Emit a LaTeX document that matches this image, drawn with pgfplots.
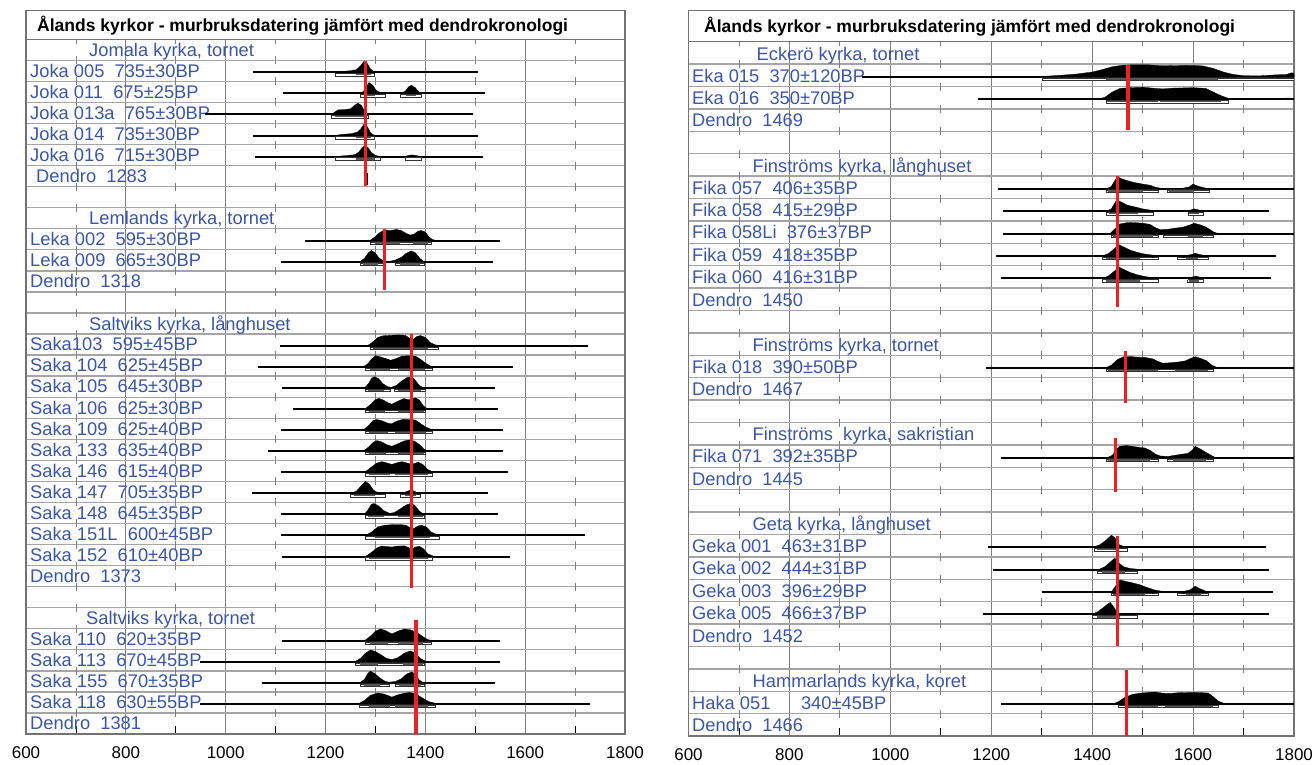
\documentclass[border=0pt]{standalone}
\usepackage{fontspec}
\setmainfont{Liberation Sans}
\usepackage{pgfplots}
\pgfplotsset{compat=1.18}
\definecolor{lblue}{RGB}{58,86,168}
\definecolor{dred}{RGB}{238,32,36}
\definecolor{hgrid}{RGB}{165,165,165}
\definecolor{vgrid}{RGB}{128,128,128}
\definecolor{rgray}{RGB}{85,85,85}
\definecolor{frm}{RGB}{115,115,115}
\tikzset{tickc/.style={vgrid,line width=0.8pt},
  labsty/.style={lblue,inner sep=0pt,font=\fontsize{18.3}{20}\selectfont}}
\pgfplotsset{panel/.style={
  scale only axis, anchor=north west,
  xmin=600,xmax=1800, y dir=reverse, ymin=0,
  xtick={600,800,...,1800}, xticklabels={600,800,1000,1200,1400,1600,1800},
  minor xtick={700,900,...,1700},
  xmajorgrids, ymajorgrids, yticklabels={},
  x grid style={vgrid,line width=0.8pt},
  y grid style={hgrid,line width=1.3pt},
  major tick length=0pt, minor tick length=8pt, tick align=inside,
  xtick pos=left, ytick pos=left,
  minor x tick style={black,line width=0.8pt},
  axis line style={frm,line width=1.3pt},
  xticklabel style={font=\fontsize{17}{17}\selectfont,yshift=-9pt},
}}
% baseline line
\newcommand{\bl}[3]{\addplot[black,line width=2pt] coordinates {(#2,#1) (#3,#1)};}
% distribution: rows "year height\\"
\newcommand{\dist}[2]{\addplot[fill=black,draw=black,line width=0.3pt] table[row sep=\\,x index=0,y expr={#1-1.08*\thisrowno{1}}]{#2};}
% 95% range box
\newcommand{\wbox}[3]{\addplot[draw=black!80,fill=white,line width=0.4pt] table[row sep=\\,x index=0,y expr={#1+\thisrowno{1}}]{#2 0.05\\#3 0.05\\#3 0.16\\#2 0.16\\#2 0.05\\};}
% 68% range bar
\newcommand{\gbox}[3]{\addplot[draw=none,fill=rgray] table[row sep=\\,x index=0,y expr={#1+\thisrowno{1}}]{#2 0.07\\#3 0.07\\#3 0.14\\#2 0.14\\};}
\newcommand{\lab}[3]{\node[labsty,anchor=base west,xshift=#1] at (axis cs:600,#2) {#3};}
\newcommand{\dendro}[3]{\addplot[dred,line width=3.6pt] coordinates {(#1,#2) (#1,#3)};}

\begin{document}
\begin{tikzpicture}
\useasboundingbox (0,0) rectangle (1312pt,-765pt);
%================ LEFT PANEL =================
\begin{axis}[panel, at={(26pt,-39.3pt)}, width=599pt, height=694.7pt, ymax=33, ytick={1,...,32}]
\foreach \xx in {700,900,...,1700}{\edef\temp{\noexpand\draw[tickc] (axis cs:\xx,0) -- ++(0pt,-4.5pt);}\temp
  \foreach \k in {1,...,32}{\edef\temp{\noexpand\draw[tickc] (axis cs:\xx,\k) ++(0pt,4pt) -- ++(0pt,-8pt);}\temp}}
\lab{63pt}{0.82}{Jomala kyrka, tornet}
\lab{4pt}{1.8}{Joka 005~ 735±30BP}
\lab{4pt}{2.8}{Joka 011~ 675±25BP}
\lab{4pt}{3.8}{Joka 013a~ 765±30BP}
\lab{4pt}{4.8}{Joka 014~ 735±30BP}
\lab{4pt}{5.8}{Joka 016~ 715±30BP}
\lab{10pt}{6.8}{Dendro~ 1283}
\lab{63pt}{8.82}{Lemlands kyrka, tornet}
\lab{4pt}{9.8}{Leka 002~ 595±30BP}
\lab{4pt}{10.8}{Leka 009~ 665±30BP}
\lab{4pt}{11.8}{Dendro~ 1318}
\lab{63pt}{13.82}{Saltviks kyrka, långhuset}
\lab{4pt}{14.8}{Saka103~ 595±45BP}
\lab{4pt}{15.8}{Saka 104~ 625±45BP}
\lab{4pt}{16.8}{Saka 105~ 645±30BP}
\lab{4pt}{17.8}{Saka 106~ 625±30BP}
\lab{4pt}{18.8}{Saka 109~ 625±40BP}
\lab{4pt}{19.8}{Saka 133~ 635±40BP}
\lab{4pt}{20.8}{Saka 146~ 615±40BP}
\lab{4pt}{21.8}{Saka 147~ 705±35BP}
\lab{4pt}{22.8}{Saka 148~ 645±35BP}
\lab{4pt}{23.8}{Saka 151L~ 600±45BP}
\lab{4pt}{24.8}{Saka 152~ 610±40BP}
\lab{4pt}{25.8}{Dendro~ 1373}
\lab{60pt}{27.82}{Saltviks kyrka, tornet}
\lab{4pt}{28.8}{Saka 110~ 620±35BP}
\lab{4pt}{29.8}{Saka 113~ 670±45BP}
\lab{4pt}{30.8}{Saka 155~ 670±35BP}
\lab{4pt}{31.8}{Saka 118~ 630±55BP}
\lab{4pt}{32.8}{Dendro~ 1381}
% Joka 005
\bl{1.57}{1055}{1505}
\dist{1.57}{1219 0\\1230 0.04\\1250 0.07\\1262 0.12\\1270 0.28\\1277 0.48\\1284 0.38\\1290 0.15\\1297 0.03\\1305 0\\}
\dist{1.57}{1362 0\\1372 0.02\\1382 0\\}
\wbox{1.57}{1219}{1297}\gbox{1.57}{1262}{1292}
% Joka 011
\bl{2.57}{1115}{1520}
\dist{2.57}{1272 0\\1280 0.2\\1287 0.48\\1295 0.35\\1302 0.12\\1310 0.04\\1320 0\\}
\dist{2.57}{1350 0\\1360 0.1\\1366 0.28\\1372 0.36\\1380 0.25\\1386 0.08\\1392 0\\}
\wbox{2.57}{1270}{1320}\wbox{2.57}{1349}{1392}\gbox{2.57}{1280}{1300}\gbox{2.57}{1362}{1382}
% Joka 013a
\bl{3.57}{958}{1495}
\dist{3.57}{1212 0\\1218 0.1\\1225 0.2\\1240 0.22\\1250 0.25\\1258 0.4\\1265 0.5\\1272 0.4\\1278 0.15\\1285 0\\}
\wbox{3.57}{1212}{1285}\gbox{3.57}{1220}{1278}
% Joka 014
\bl{4.57}{1055}{1505}
\dist{4.57}{1219 0\\1232 0.05\\1252 0.08\\1264 0.15\\1271 0.3\\1277 0.5\\1284 0.38\\1290 0.12\\1297 0.02\\1305 0\\}
\dist{4.57}{1362 0\\1372 0.015\\1382 0\\}
\wbox{4.57}{1219}{1297}\gbox{4.57}{1262}{1292}
% Joka 016
\bl{5.57}{1059}{1515}
\dist{5.57}{1219 0\\1240 0.04\\1258 0.08\\1266 0.18\\1272 0.35\\1278 0.48\\1285 0.4\\1292 0.18\\1300 0.05\\1310 0\\}
\dist{5.57}{1358 0\\1368 0.06\\1375 0.07\\1385 0.03\\1392 0\\}
\wbox{5.57}{1219}{1310}\wbox{5.57}{1359}{1391}\gbox{5.57}{1262}{1300}
\addplot[black,line width=1.5pt] coordinates {(1283,6.35) (1283,6.9)};
\dendro{1280}{1.03}{6.97}
% Leka 002
\bl{9.57}{1159}{1550}
\dist{9.57}{1288 0\\1298 0.15\\1308 0.35\\1318 0.48\\1330 0.45\\1342 0.5\\1352 0.45\\1362 0.32\\1370 0.25\\1378 0.3\\1385 0.42\\1392 0.45\\1400 0.38\\1408 0.15\\1415 0.05\\1425 0\\}
\wbox{9.57}{1290}{1412}\gbox{9.57}{1300}{1350}\gbox{9.57}{1375}{1405}
% Leka 009
\bl{10.57}{1110}{1535}
\dist{10.57}{1268 0\\1278 0.15\\1286 0.4\\1292 0.5\\1300 0.38\\1308 0.15\\1317 0.04\\1328 0.02\\1340 0.08\\1352 0.2\\1362 0.38\\1372 0.48\\1380 0.4\\1388 0.18\\1397 0\\}
\wbox{10.57}{1270}{1317}\wbox{10.57}{1339}{1397}\gbox{10.57}{1276}{1305}\gbox{10.57}{1350}{1390}
\dendro{1318}{9.0}{11.9}
% Saka103
\bl{14.57}{1109}{1725}
\dist{14.57}{1283 0\\1293 0.15\\1305 0.38\\1315 0.45\\1330 0.47\\1345 0.49\\1360 0.47\\1370 0.32\\1376 0.3\\1383 0.42\\1390 0.46\\1400 0.38\\1410 0.15\\1420 0.05\\1433 0\\}
\wbox{14.57}{1290}{1425}\gbox{14.57}{1295}{1405}
% Saka 104
\bl{15.57}{1065}{1575}
\dist{15.57}{1275 0\\1285 0.15\\1292 0.35\\1300 0.5\\1310 0.45\\1320 0.38\\1331 0.3\\1342 0.38\\1353 0.48\\1365 0.5\\1380 0.48\\1390 0.35\\1400 0.18\\1410 0.05\\1420 0\\}
\wbox{15.57}{1280}{1413}\gbox{15.57}{1290}{1330}\gbox{15.57}{1346}{1400}
% Saka 105
\bl{16.57}{1113}{1540}
\dist{16.57}{1278 0\\1286 0.2\\1293 0.45\\1298 0.5\\1306 0.42\\1315 0.2\\1325 0.06\\1332 0.04\\1342 0.12\\1352 0.3\\1362 0.45\\1370 0.5\\1378 0.4\\1388 0.12\\1397 0\\}
\wbox{16.57}{1279}{1330}\wbox{16.57}{1338}{1400}\gbox{16.57}{1285}{1318}\gbox{16.57}{1345}{1392}
% Saka 106
\bl{17.57}{1135}{1545}
\dist{17.57}{1278 0\\1290 0.2\\1300 0.42\\1307 0.48\\1316 0.4\\1325 0.28\\1333 0.22\\1345 0.35\\1357 0.47\\1365 0.42\\1372 0.43\\1380 0.5\\1388 0.4\\1396 0.15\\1405 0\\}
\wbox{17.57}{1280}{1400}\gbox{17.57}{1288}{1320}\gbox{17.57}{1345}{1398}
% Saka 109
\bl{18.57}{1110}{1555}
\dist{18.57}{1275 0\\1286 0.2\\1295 0.42\\1303 0.47\\1313 0.42\\1323 0.32\\1332 0.28\\1343 0.4\\1355 0.48\\1368 0.47\\1380 0.45\\1390 0.3\\1400 0.15\\1410 0.05\\1418 0\\}
\wbox{18.57}{1280}{1413}\gbox{18.57}{1288}{1325}\gbox{18.57}{1340}{1402}
% Saka 133
\bl{19.57}{1085}{1555}
\dist{19.57}{1275 0\\1287 0.2\\1296 0.4\\1303 0.47\\1312 0.42\\1322 0.3\\1333 0.22\\1345 0.33\\1357 0.45\\1367 0.5\\1378 0.45\\1388 0.3\\1396 0.12\\1405 0\\}
\wbox{19.57}{1280}{1400}\gbox{19.57}{1288}{1322}\gbox{19.57}{1345}{1398}
% Saka 146
\bl{20.57}{1110}{1565}
\dist{20.57}{1278 0\\1290 0.2\\1302 0.4\\1313 0.47\\1322 0.42\\1333 0.35\\1343 0.42\\1353 0.47\\1362 0.42\\1372 0.35\\1380 0.4\\1386 0.45\\1395 0.35\\1405 0.12\\1418 0\\}
\wbox{20.57}{1280}{1413}\gbox{20.57}{1288}{1330}\gbox{20.57}{1340}{1405}
% Saka 147
\bl{21.57}{1053}{1525}
\dist{21.57}{1250 0\\1262 0.1\\1272 0.35\\1280 0.53\\1288 0.4\\1296 0.15\\1303 0.05\\1312 0\\}
\dist{21.57}{1352 0\\1362 0.08\\1370 0.15\\1378 0.1\\1387 0\\}
\wbox{21.57}{1250}{1320}\wbox{21.57}{1350}{1390}\gbox{21.57}{1258}{1300}\gbox{21.57}{1360}{1382}
% Saka 148
\bl{22.57}{1110}{1545}
\dist{22.57}{1278 0\\1285 0.2\\1292 0.45\\1297 0.48\\1306 0.38\\1316 0.18\\1328 0.05\\1338 0.08\\1350 0.25\\1362 0.42\\1370 0.48\\1378 0.42\\1388 0.15\\1397 0\\}
\wbox{22.57}{1280}{1397}\gbox{22.57}{1285}{1318}\gbox{22.57}{1345}{1395}
% Saka 151L
\bl{23.57}{1110}{1720}
\dist{23.57}{1280 0\\1292 0.15\\1305 0.38\\1318 0.45\\1335 0.48\\1350 0.48\\1362 0.45\\1370 0.32\\1377 0.3\\1385 0.42\\1392 0.45\\1402 0.38\\1412 0.15\\1422 0.05\\1435 0\\}
\wbox{23.57}{1280}{1427}\gbox{23.57}{1300}{1410}
% Saka 152
\bl{24.57}{1113}{1570}
\dist{24.57}{1280 0\\1292 0.18\\1303 0.38\\1312 0.46\\1322 0.44\\1333 0.42\\1345 0.46\\1358 0.47\\1366 0.4\\1372 0.3\\1380 0.42\\1388 0.45\\1396 0.35\\1405 0.12\\1418 0\\}
\wbox{24.57}{1280}{1413}\gbox{24.57}{1288}{1405}
\dendro{1372}{14.0}{26.05}
% Saka 110
\bl{28.57}{1113}{1550}
\dist{28.57}{1278 0\\1290 0.2\\1300 0.42\\1310 0.52\\1320 0.45\\1333 0.3\\1345 0.42\\1358 0.52\\1370 0.48\\1382 0.38\\1395 0.18\\1405 0.05\\1415 0\\}
\wbox{28.57}{1279}{1412}\gbox{28.57}{1290}{1325}\gbox{28.57}{1345}{1395}
% Saka 113
\bl{29.57}{949}{1550}
\dist{29.57}{1258 0\\1270 0.15\\1280 0.38\\1290 0.52\\1300 0.45\\1312 0.3\\1322 0.15\\1333 0.1\\1345 0.18\\1358 0.38\\1370 0.48\\1380 0.38\\1390 0.15\\1398 0.05\\1405 0\\}
\wbox{29.57}{1260}{1397}\gbox{29.57}{1270}{1305}\gbox{29.57}{1355}{1395}
% Saka 155
\bl{30.57}{1073}{1540}
\dist{30.57}{1268 0\\1278 0.15\\1285 0.42\\1290 0.52\\1298 0.42\\1310 0.2\\1320 0.06\\1327 0.03\\1340 0.06\\1352 0.18\\1362 0.38\\1373 0.48\\1380 0.38\\1388 0.12\\1397 0\\}
\wbox{30.57}{1270}{1327}\wbox{30.57}{1339}{1397}\gbox{30.57}{1278}{1310}\gbox{30.57}{1348}{1392}
% Saka 118
\bl{31.57}{949}{1730}
\dist{31.57}{1265 0\\1278 0.15\\1290 0.38\\1305 0.48\\1318 0.43\\1333 0.3\\1345 0.4\\1360 0.48\\1370 0.5\\1382 0.42\\1395 0.25\\1407 0.1\\1418 0.04\\1428 0\\}
\wbox{31.57}{1268}{1420}\gbox{31.57}{1288}{1330}\gbox{31.57}{1340}{1405}
\dendro{1381}{27.6}{33}
\end{axis}
%================ RIGHT PANEL =================
\begin{axis}[panel, at={(688.5pt,-41.7pt)}, width=605.5pt, height=694.4pt, ymax=31, ytick={1,...,30}]
\foreach \xx in {700,900,...,1700}{\edef\temp{\noexpand\draw[tickc] (axis cs:\xx,0) -- ++(0pt,-4.5pt);}\temp
  \foreach \k in {1,...,30}{\edef\temp{\noexpand\draw[tickc] (axis cs:\xx,\k) ++(0pt,4pt) -- ++(0pt,-8pt);}\temp}}
\lab{68pt}{0.82}{Eckerö kyrka, tornet}
\lab{3.5pt}{1.8}{Eka 015~ 370±120BP}
\lab{3.5pt}{2.8}{Eka 016~ 350±70BP}
\lab{3.5pt}{3.8}{Dendro~ 1469}
\lab{64pt}{5.82}{Finströms kyrka, långhuset}
\lab{3.5pt}{6.8}{Fika 057~ 406±35BP}
\lab{3.5pt}{7.8}{Fika 058~ 415±29BP}
\lab{3.5pt}{8.8}{Fika 058Li~ 376±37BP}
\lab{3.5pt}{9.8}{Fika 059~ 418±35BP}
\lab{3.5pt}{10.8}{Fika 060~ 416±31BP}
\lab{3.5pt}{11.8}{Dendro~ 1450}
\lab{64pt}{13.82}{Finströms kyrka, tornet}
\lab{3.5pt}{14.8}{Fika 018~ 390±50BP}
\lab{3.5pt}{15.8}{Dendro~ 1467}
\lab{64pt}{17.82}{Finströms~ kyrka, sakristian}
\lab{3.5pt}{18.8}{Fika 071~ 392±35BP}
\lab{3.5pt}{19.8}{Dendro~ 1445}
\lab{64pt}{21.82}{Geta kyrka, långhuset}
\lab{3.5pt}{22.8}{Geka 001~ 463±31BP}
\lab{3.5pt}{23.8}{Geka 002~ 444±31BP}
\lab{3.5pt}{24.8}{Geka 003~ 396±29BP}
\lab{3.5pt}{25.8}{Geka 005~ 466±37BP}
\lab{3.5pt}{26.8}{Dendro~ 1452}
\lab{64pt}{28.82}{Hammarlands kyrka, koret}
\lab{3.5pt}{29.8}{Haka 051~ ~ ~ 340±45BP}
\lab{3.5pt}{30.8}{Dendro~ 1466}
% Eka 015
\bl{1.57}{944}{1800}
\dist{1.57}{1290 0\\1310 0.03\\1340 0.07\\1370 0.12\\1400 0.2\\1420 0.3\\1440 0.42\\1460 0.48\\1480 0.5\\1510 0.5\\1540 0.46\\1570 0.47\\1600 0.48\\1620 0.45\\1640 0.35\\1660 0.2\\1680 0.1\\1700 0.05\\1730 0.04\\1760 0.08\\1785 0.1\\1795 0.17\\1800 0.15\\1800 0\\}
\wbox{1.57}{1300}{1800}\gbox{1.57}{1428}{1650}
% Eka 016
\bl{2.57}{1174}{1800}
\dist{2.57}{1410 0\\1425 0.08\\1440 0.3\\1455 0.45\\1475 0.48\\1500 0.5\\1520 0.46\\1540 0.43\\1560 0.46\\1580 0.47\\1600 0.48\\1625 0.45\\1640 0.3\\1655 0.15\\1670 0.04\\1690 0.01\\1760 0.01\\1785 0.05\\1800 0.04\\1800 0\\}
\wbox{2.57}{1428}{1670}\gbox{2.57}{1430}{1530}\gbox{2.57}{1535}{1655}
\addplot[black,line width=1.5pt] coordinates {(1468,3.1) (1468,3.6)};
\dendro{1471}{1.05}{3.95}
% Fika 057
\bl{6.57}{1214}{1800}
\dist{6.57}{1428 0\\1438 0.1\\1445 0.35\\1450 0.5\\1458 0.42\\1468 0.35\\1480 0.28\\1490 0.24\\1500 0.2\\1515 0.15\\1525 0.07\\1535 0.03\\1550 0.02\\1580 0.03\\1592 0.08\\1600 0.2\\1605 0.15\\1615 0.08\\1627 0.02\\1635 0\\}
\wbox{6.57}{1428}{1531}\wbox{6.57}{1549}{1631}\gbox{6.57}{1432}{1500}\gbox{6.57}{1552}{1602}
% Fika 058
\bl{7.57}{1224}{1750}
\dist{7.57}{1428 0\\1438 0.1\\1445 0.35\\1449 0.46\\1458 0.38\\1470 0.25\\1485 0.18\\1500 0.1\\1515 0.05\\1530 0.02\\1580 0.01\\1595 0.05\\1602 0.1\\1610 0.06\\1622 0.01\\1630 0\\}
\wbox{7.57}{1428}{1520}\wbox{7.57}{1590}{1620}\gbox{7.57}{1433}{1490}\gbox{7.57}{1592}{1612}
% Fika 058Li
\bl{8.57}{1224}{1800}
\dist{8.57}{1435 0\\1445 0.2\\1455 0.4\\1470 0.46\\1490 0.45\\1505 0.42\\1515 0.38\\1525 0.25\\1535 0.17\\1550 0.18\\1565 0.23\\1580 0.27\\1592 0.35\\1602 0.43\\1612 0.38\\1625 0.28\\1640 0.08\\1650 0\\}
\wbox{8.57}{1438}{1531}\wbox{8.57}{1540}{1640}\gbox{8.57}{1442}{1520}\gbox{8.57}{1590}{1620}
% Fika 059
\bl{9.57}{1209}{1764}
\dist{9.57}{1419 0\\1432 0.1\\1445 0.32\\1452 0.48\\1462 0.38\\1475 0.25\\1490 0.15\\1505 0.08\\1520 0.04\\1540 0.02\\1585 0.02\\1598 0.07\\1604 0.12\\1612 0.07\\1625 0.02\\1635 0\\}
\wbox{9.57}{1419}{1531}\wbox{9.57}{1569}{1630}\gbox{9.57}{1428}{1495}\gbox{9.57}{1585}{1610}
% Fika 060
\bl{10.57}{1219}{1754}
\dist{10.57}{1419 0\\1432 0.1\\1445 0.32\\1452 0.48\\1462 0.38\\1475 0.25\\1490 0.15\\1505 0.08\\1520 0.03\\1540 0.01\\1590 0.02\\1600 0.07\\1606 0.1\\1615 0.04\\1630 0\\}
\wbox{10.57}{1419}{1531}\wbox{10.57}{1589}{1620}\gbox{10.57}{1428}{1495}\gbox{10.57}{1592}{1612}
\dendro{1450}{6.0}{11.85}
% Fika 018
\bl{14.57}{1189}{1800}
\dist{14.57}{1425 0\\1438 0.12\\1450 0.35\\1462 0.47\\1475 0.48\\1490 0.45\\1505 0.44\\1520 0.38\\1530 0.28\\1540 0.2\\1555 0.22\\1570 0.25\\1585 0.3\\1595 0.4\\1604 0.47\\1615 0.4\\1627 0.3\\1637 0.12\\1650 0\\}
\wbox{14.57}{1428}{1640}\gbox{14.57}{1432}{1530}\gbox{14.57}{1565}{1630}
\dendro{1466}{13.8}{16.15}
% Fika 071
\bl{18.57}{1219}{1800}
\dist{18.57}{1430 0\\1440 0.1\\1448 0.35\\1455 0.47\\1468 0.5\\1480 0.47\\1495 0.42\\1505 0.4\\1515 0.3\\1525 0.15\\1535 0.07\\1550 0.05\\1570 0.12\\1590 0.18\\1598 0.3\\1604 0.47\\1615 0.35\\1627 0.2\\1637 0.08\\1645 0\\}
\wbox{18.57}{1428}{1531}\wbox{18.57}{1549}{1640}\gbox{18.57}{1432}{1515}\gbox{18.57}{1560}{1625}
\dendro{1446}{17.7}{20.1}
% Geka 001
\bl{22.57}{1194}{1744}
\dist{22.57}{1400 0\\1415 0.1\\1428 0.3\\1438 0.5\\1445 0.4\\1452 0.12\\1462 0.04\\1475 0.01\\1500 0\\}
\wbox{22.57}{1404}{1470}\gbox{22.57}{1410}{1452}
% Geka 002
\bl{23.57}{1204}{1751}
\dist{23.57}{1412 0\\1425 0.12\\1435 0.3\\1445 0.48\\1452 0.3\\1462 0.12\\1475 0.05\\1490 0.02\\1510 0.01\\1520 0\\}
\wbox{23.57}{1410}{1490}\gbox{23.57}{1420}{1465}
% Geka 003
\bl{24.57}{1300}{1759}
\dist{24.57}{1438 0\\1448 0.3\\1455 0.5\\1465 0.45\\1480 0.38\\1495 0.3\\1510 0.18\\1525 0.08\\1540 0.03\\1580 0.02\\1595 0.1\\1604 0.25\\1612 0.15\\1625 0.04\\1635 0\\}
\wbox{24.57}{1438}{1531}\wbox{24.57}{1569}{1630}\gbox{24.57}{1442}{1505}\gbox{24.57}{1585}{1615}
% Geka 005
\bl{25.57}{1184}{1751}
\dist{25.57}{1398 0\\1410 0.1\\1420 0.25\\1430 0.42\\1436 0.5\\1443 0.3\\1450 0.05\\1460 0.02\\1490 0\\}
\wbox{25.57}{1400}{1490}\gbox{25.57}{1410}{1455}
\dendro{1450}{22.08}{26.96}
% Haka 051
\bl{29.57}{1219}{1800}
\dist{29.57}{1440 0\\1452 0.1\\1465 0.28\\1480 0.4\\1495 0.45\\1510 0.48\\1525 0.5\\1540 0.45\\1555 0.44\\1570 0.47\\1590 0.48\\1610 0.48\\1630 0.46\\1640 0.3\\1650 0.12\\1660 0.04\\1670 0.01\\1690 0\\}
\wbox{29.57}{1452}{1650}\gbox{29.57}{1470}{1530}\gbox{29.57}{1545}{1640}
\dendro{1468}{28.05}{31}
\end{axis}
%================ TITLES =================
\draw[frm,line width=1.3pt,fill=white] (26pt,-10.5pt) rectangle (625pt,-39.3pt);
\node[anchor=west,inner sep=0pt,font=\bfseries\fontsize{17.5}{20}\selectfont] at (37pt,-25.5pt) {Ålands kyrkor - murbruksdatering jämfört med dendrokronologi};
\draw[frm,line width=1.3pt,fill=white] (688.5pt,-10.5pt) rectangle (1294pt,-41.7pt);
\node[anchor=west,inner sep=0pt,font=\bfseries\fontsize{17.5}{20}\selectfont] at (704pt,-26.5pt) {Ålands kyrkor - murbruksdatering jämfört med dendrokronologi};
\end{tikzpicture}
\end{document}
